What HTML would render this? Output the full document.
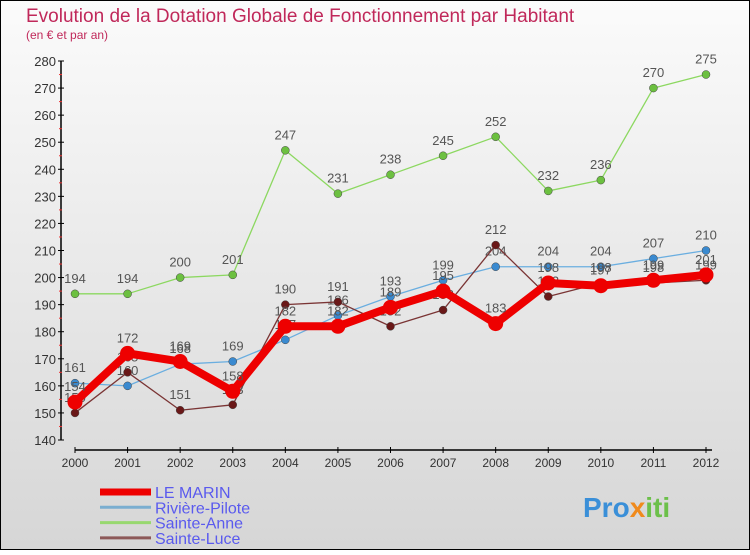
<!DOCTYPE html>
<html><head><meta charset="utf-8"><style>
body{margin:0;width:750px;height:550px;overflow:hidden;font-family:"Liberation Sans",sans-serif}
svg text{font-family:"Liberation Sans",sans-serif}
</style></head><body>
<svg id="c" width="750" height="550" xmlns="http://www.w3.org/2000/svg">
<defs><linearGradient id="bg" x1="0" y1="0" x2="0" y2="1"><stop offset="0" stop-color="#fbfbfb"/><stop offset="1" stop-color="#d6d6d6"/></linearGradient></defs>
<rect x="0.5" y="0.5" width="749" height="549" fill="url(#bg)" stroke="#000"/>
<text x="26" y="22" font-size="19" fill="#c0285a">Evolution de la Dotation Globale de Fonctionnement par Habitant</text>
<text x="26" y="39" font-size="12" fill="#c0285a">(en € et par an)</text>
<g id="axes"></g><g id="series"></g><g id="legend"></g>
<text x="583" y="517" font-size="28" font-weight="bold" fill="#3a8fd8">Pro<tspan fill="#f08a1c">x</tspan><tspan fill="#6cc04a">iti</tspan></text>
</svg>
<script>
const years=[2000,2001,2002,2003,2004,2005,2006,2007,2008,2009,2010,2011,2012];
const yTicks=[140,150,160,170,180,190,200,210,220,230,240,250,260,270,280];
const seriesNames=["LE MARIN","Rivière-Pilote","Sainte-Anne","Sainte-Luce"];
const leMarin=[154,172,169,158,182,182,189,195,183,198,197,199,201];
const riviere=[161,160,168,169,177,186,193,199,204,204,204,207,210];
const sainteAnne=[194,194,200,201,247,231,238,245,252,232,236,270,275];
const sainteLuce=[150,165,151,153,190,191,182,188,212,193,198,198,199];
const NS="http://www.w3.org/2000/svg";
const x=i=>75+i*(706-75)/(years.length-1);
const y=v=>61+(280-v)*(440-61)/140;
function mk(tag,attrs,parent,txt){const e=document.createElementNS(NS,tag);for(const k in attrs)e.setAttribute(k,attrs[k]);if(txt!==undefined)e.textContent=txt;parent.appendChild(e);return e;}
const ax=document.getElementById('axes');
let l=mk('line',{x1:61,y1:61,x2:61,y2:440,stroke:'#000','stroke-width':1.5},ax);


l=mk('line',{x1:75,y1:450,x2:712,y2:450,stroke:'#000','stroke-width':1.5},ax);


yTicks.forEach((v,i)=>{
 mk('line',{x1:58,y1:y(v),x2:64,y2:y(v),stroke:'#000'},ax);
 if(i<yTicks.length-1) mk('line',{x1:59,y1:y(v+5),x2:62,y2:y(v+5),stroke:'#e33'},ax);
 const t=mk('text',{x:56,y:y(v)+5,'font-size':13,'text-anchor':'end',fill:'#333'},ax,v);
 
 
});
years.forEach((yr,i)=>{
 mk('line',{x1:x(i),y1:447,x2:x(i),y2:453,stroke:'#000'},ax);
 const t=mk('text',{x:x(i),y:467,'font-size':12,'text-anchor':'middle',fill:'#333'},ax,yr);
 
 
});
const sg=document.getElementById('series');
const defs=[[sainteAnne,'#8cd860','#6cc040',1.3,4,'sainte-anne'],[riviere,'#6aaee0','#3a8ad0',1.3,4,'riviere-pilote'],[sainteLuce,'#7a3434','#6a1818',1.3,4,'sainte-luce'],[leMarin,'#ee0000','#ee0000',8,7.5,'le-marin']];
defs.forEach(([d,lc,pc,w,r,nm])=>{
 const g=mk('g',{},sg);
 
 
 const p=mk('polyline',{points:d.map((v,i)=>x(i)+','+y(v)).join(' '),fill:'none',stroke:lc,'stroke-width':w,'stroke-linejoin':'round'},g);
 
 
 d.forEach((v,i)=>{
  const c=mk('circle',{cx:x(i),cy:y(v),r:r,fill:pc,stroke:nm==='le-marin'?'none':'#444','stroke-width':0.5},g);
  
  
  const t=mk('text',{x:x(i),y:y(v)-11,'font-size':13,'text-anchor':'middle',fill:'#555'},g,v);
  
  
 });
});
const lg=document.getElementById('legend');
const lcol=['#ee0000','#7aaed0','#98d870','#8c5858'],lw=[7,3,3,3];
seriesNames.forEach((n,i)=>{
 const yy=492+i*15.3;
 const e=mk('line',{x1:100,y1:yy,x2:151,y2:yy,stroke:lcol[i],'stroke-width':lw[i]},lg);
 
 
 const t=mk('text',{x:155,y:yy+6,'font-size':16,fill:'#5a5aee'},lg,n);
 
 
});
</script>
</body></html>
